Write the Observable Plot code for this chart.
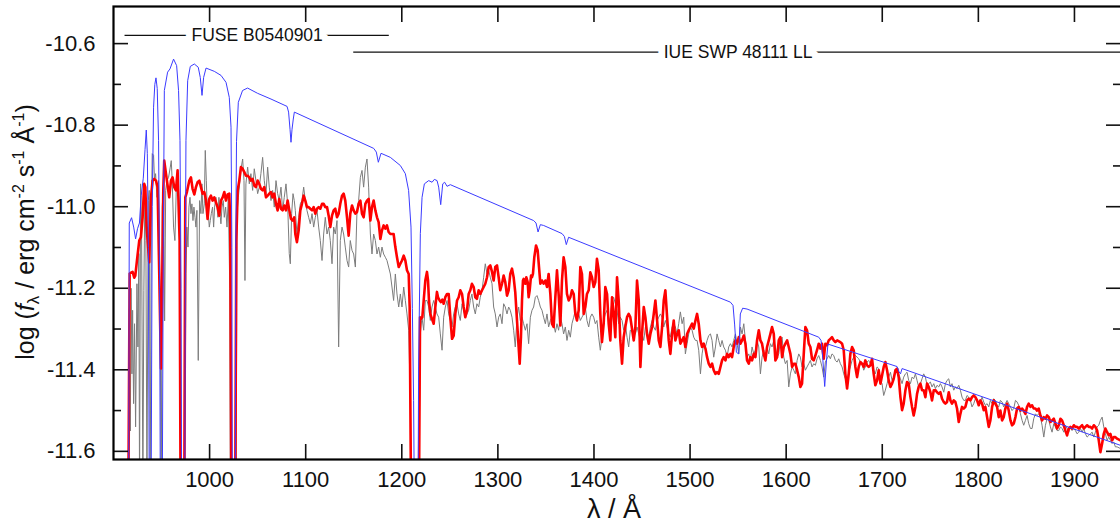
<!DOCTYPE html>
<html><head><meta charset="utf-8">
<script src="https://cdn.jsdelivr.net/npm/d3@7"></script>
<script src="https://cdn.jsdelivr.net/npm/@observablehq/plot@0.6"></script>
<style>body{margin:0;background:#fff;overflow:hidden}</style>
</head><body><div id="chart"></div>
<script>
const xTicks = [1000,1100,1200,1300,1400,1500,1600,1700,1800,1900];
const yMajor = [-10.6,-10.8,-11.0,-11.2,-11.4,-11.6];
const yMinor = [-10.7,-10.9,-11.1,-11.3,-11.5];
const instruments = [
  {name:"FUSE B0540901", from:912, to:1187, level:-10.580},
  {name:"IUE SWP 48111 LL", from:1150, to:1950, level:-10.621}
];

// blue: model spectrum
const modelSpectrum = [[915.8,-11.7],[916.4,-11.04],[918.8,-11.027],[921,-11.05],[923,-11.079],[925,-11.054],[927,-11.04],[928.8,-10.973],[931,-10.93],[932.8,-10.86],[934.1,-10.812],[935.2,-10.87],[936.3,-11.1],[937.2,-11.7],[939.2,-11.7],[940.3,-11.0],[941.7,-10.756],[943,-10.7],[944.2,-10.684],[945.5,-10.71],[946.9,-10.838],[948,-11.2],[948.7,-11.7],[950.8,-11.7],[951.8,-11.1],[952.9,-10.715],[956.3,-10.670],[958.8,-10.662],[962.5,-10.638],[965.7,-10.654],[967.7,-10.715],[969.2,-10.838],[970.3,-11.2],[970.8,-11.7],[974.2,-11.7],[974.8,-11.1],[975.4,-10.838],[977.2,-10.691],[979.9,-10.656],[984.1,-10.650],[988.2,-10.658],[990.3,-10.683],[992.1,-10.727],[993.8,-10.683],[996.3,-10.660],[1004.9,-10.668],[1011.9,-10.678],[1017.1,-10.695],[1020.5,-10.732],[1022.3,-10.805],[1023.2,-11.1],[1023.6,-11.7],[1026.8,-11.7],[1027.2,-11.1],[1028,-10.84],[1029.9,-10.744],[1034.3,-10.715],[1039.5,-10.709],[1050,-10.722],[1063.9,-10.736],[1080.6,-10.754],[1082.2,-10.768],[1083.7,-10.81],[1084.7,-10.842],[1085.8,-10.81],[1087.1,-10.785],[1088.2,-10.768],[1170.8,-10.857],[1173.5,-10.866],[1175.6,-10.891],[1178.4,-10.869],[1188.1,-10.879],[1198.5,-10.899],[1203.7,-10.919],[1207.1,-10.960],[1209.6,-11.050],[1211,-11.25],[1212.3,-11.475],[1213,-11.7],[1217,-11.7],[1217.5,-11.393],[1219.3,-11.066],[1221.1,-10.977],[1223.5,-10.944],[1228,-10.936],[1231.5,-10.940],[1233.9,-10.933],[1236.7,-10.936],[1238.4,-10.952],[1240.5,-10.995],[1242.6,-10.944],[1244.6,-10.940],[1247.1,-10.950],[1250.5,-10.946],[1337.2,-11.034],[1339.7,-11.040],[1341.8,-11.062],[1344.2,-11.044],[1347.6,-11.046],[1366.8,-11.066],[1369.2,-11.073],[1371.2,-11.093],[1373.6,-11.075],[1541.9,-11.234],[1544.7,-11.242],[1546.4,-11.29],[1548.2,-11.357],[1550.6,-11.361],[1552.3,-11.263],[1554.7,-11.249],[1559.3,-11.251],[1633.9,-11.320],[1636.3,-11.328],[1638,-11.369],[1640.1,-11.441],[1642.2,-11.369],[1643.5,-11.337],[1715.4,-11.392],[1717.5,-11.405],[1719,-11.41],[1720.6,-11.397],[1950,-11.587]];

// gray: observed spectrum
const observedSpectrum = [[915.3,-11.7],[916.5,-11.25],[917.5,-11.55],[918.3,-11.2],[919.2,-11.410],[919.9,-11.254],[920.9,-11.483],[921.9,-11.287],[923.0,-11.540],[924.4,-11.189],[925.4,-11.344],[926.4,-11.115],[927.1,-11.7],[928.2,-10.944],[929.2,-11.050],[930.6,-11.7],[931.6,-11.205],[932.7,-10.952],[933.7,-11.083],[934.8,-11.7],[936.2,-10.985],[937.2,-10.960],[938.2,-11.7],[939.3,-11.050],[940.3,-10.870],[941.7,-10.874],[942.7,-10.936],[943.8,-10.919],[945.2,-10.977],[946.9,-10.936],[948.6,-11.287],[949.7,-11.7],[950.7,-11.001],[952.1,-10.944],[953.2,-11.28],[954.3,-10.96],[955.6,-10.936],[957.3,-10.928],[959.1,-10.903],[960.1,-10.887],[961.1,-10.936],[962.5,-11.050],[963.9,-11.083],[965.3,-10.960],[967.0,-10.936],[968.8,-11.001],[970.2,-11.7],[974.0,-11.7],[975.4,-11.164],[976.4,-11.050],[977.5,-11.099],[978.5,-11.001],[979.6,-10.977],[980.6,-11.017],[981.6,-10.993],[982.7,-11.034],[983.7,-11.001],[984.8,-11.026],[985.8,-11.050],[986.8,-11.009],[988.2,-11.377],[989.6,-10.985],[991.0,-11.017],[992.0,-10.944],[993.1,-11.017],[994.5,-10.993],[995.5,-10.862],[996.6,-10.936],[997.6,-11.009],[998.6,-11.017],[999.7,-11.050],[1000.7,-11.034],[1001.8,-11.017],[1003.1,-11.001],[1004.2,-11.050],[1005.2,-11.001],[1006.6,-10.977],[1007.7,-11.001],[1008.7,-11.026],[1009.7,-10.977],[1010.8,-11.017],[1011.8,-11.042],[1012.9,-11.001],[1014.2,-10.985],[1015.3,-11.026],[1016.7,-11.001],[1018.1,-11.050],[1019.5,-10.977],[1021.0,-11.2],[1021.6,-11.7],[1027.6,-11.7],[1028.5,-11.017],[1029.9,-10.977],[1031.6,-10.936],[1033.0,-10.903],[1034.4,-10.883],[1035.8,-10.936],[1036.8,-11.181],[1037.8,-10.944],[1039.6,-10.903],[1041.3,-10.944],[1043.0,-10.919],[1044.8,-10.960],[1046.5,-10.907],[1048.2,-10.936],[1050.0,-10.968],[1051.7,-10.952],[1053.4,-10.919],[1055.2,-10.879],[1056.9,-10.936],[1058.7,-10.968],[1060.4,-10.903],[1062.1,-10.952],[1063.9,-10.985],[1065.6,-10.960],[1067.3,-11.001],[1069.1,-10.936],[1070.8,-10.968],[1072.5,-10.985],[1074.3,-10.952],[1076.0,-11.009],[1077.7,-10.977],[1079.5,-10.944],[1081.2,-10.993],[1082.9,-11.115],[1084.0,-11.140],[1085.4,-11.017],[1086.8,-10.968],[1088.1,-10.985],[1089.2,-11.009],[1090.9,-11.067],[1092.7,-11.026],[1094.4,-10.993],[1096.1,-10.985],[1097.9,-10.952],[1099.6,-10.985],[1101.3,-11.009],[1103.1,-11.026],[1104.8,-11.042],[1106.6,-11.017],[1108.3,-11.050],[1110.0,-11.026],[1111.8,-11.009],[1113.5,-11.050],[1115.2,-11.083],[1117.0,-11.132],[1118.7,-11.067],[1120.4,-11.026],[1122.2,-11.067],[1123.9,-11.050],[1125.6,-11.083],[1127.4,-11.140],[1129.1,-11.050],[1130.8,-11.067],[1132.6,-11.034],[1134.3,-11.344],[1136.0,-11.083],[1137.8,-11.050],[1139.5,-11.067],[1141.2,-11.099],[1143.0,-11.132],[1144.7,-11.148],[1146.4,-11.083],[1148.2,-11.107],[1149.9,-11.116],[1151.7,-11.148],[1153.4,-11.009],[1155.1,-10.985],[1156.9,-10.928],[1158.6,-10.911],[1160.3,-10.952],[1162.1,-10.903],[1163.8,-10.883],[1165.5,-10.952],[1167.3,-11.067],[1169.0,-11.116],[1170.7,-11.067],[1172.5,-11.083],[1174.2,-11.116],[1175.9,-11.099],[1177.7,-11.124],[1179.4,-11.099],[1181.1,-11.116],[1182.9,-11.124],[1184.6,-11.132],[1186.3,-11.148],[1188.1,-11.165],[1189.8,-11.197],[1191.5,-11.230],[1193.3,-11.165],[1195.0,-11.214],[1196.8,-11.246],[1198.5,-11.214],[1200.2,-11.246],[1202.0,-11.197],[1203.7,-11.230],[1205.4,-11.263],[1207.2,-11.303],[1208.9,-11.475],[1209.9,-11.7],[1217.6,-11.7],[1219.3,-11.312],[1221.0,-11.271],[1222.8,-11.303],[1224.5,-11.230],[1226.2,-11.230],[1228.0,-11.246],[1229.7,-11.279],[1231.4,-11.246],[1233.2,-11.230],[1234.9,-11.246],[1236.6,-11.263],[1238.4,-11.271],[1240.1,-11.312],[1241.9,-11.352],[1243.6,-11.271],[1245.3,-11.246],[1247.1,-11.230],[1248.8,-11.263],[1250.5,-11.279],[1252.3,-11.295],[1254.0,-11.263],[1255.7,-11.246],[1257.5,-11.238],[1259.2,-11.263],[1260.9,-11.279],[1262.7,-11.238],[1264.4,-11.254],[1266.1,-11.271],[1267.9,-11.263],[1269.6,-11.254],[1271.3,-11.230],[1273.0,-11.214],[1274.8,-11.246],[1276.5,-11.263],[1278.2,-11.238],[1280.0,-11.246],[1281.7,-11.222],[1283.5,-11.205],[1285.2,-11.173],[1286.9,-11.140],[1288.7,-11.165],[1290.4,-11.156],[1292.1,-11.173],[1293.9,-11.189],[1295.6,-11.246],[1297.3,-11.263],[1299.1,-11.295],[1300.8,-11.271],[1302.5,-11.263],[1304.3,-11.287],[1306.0,-11.238],[1307.7,-11.246],[1309.5,-11.263],[1311.2,-11.246],[1312.9,-11.254],[1314.7,-11.271],[1316.4,-11.303],[1318.1,-11.344],[1319.9,-11.271],[1321.6,-11.246],[1323.3,-11.279],[1325.1,-11.271],[1326.8,-11.287],[1328.6,-11.303],[1330.3,-11.287],[1332.0,-11.336],[1333.8,-11.271],[1335.5,-11.254],[1337.2,-11.246],[1339.0,-11.222],[1340.7,-11.218],[1342.4,-11.230],[1344.2,-11.246],[1345.9,-11.254],[1347.6,-11.271],[1349.4,-11.287],[1351.1,-11.263],[1352.8,-11.295],[1354.6,-11.279],[1356.3,-11.271],[1358.0,-11.287],[1359.8,-11.308],[1361.5,-11.287],[1363.2,-11.303],[1365.0,-11.271],[1366.7,-11.287],[1368.4,-11.312],[1370.2,-11.295],[1371.9,-11.328],[1373.7,-11.303],[1375.4,-11.320],[1377.1,-11.287],[1378.9,-11.271],[1380.6,-11.254],[1382.3,-11.271],[1384.1,-11.263],[1385.8,-11.279],[1387.5,-11.271],[1389.3,-11.263],[1391.0,-11.246],[1392.7,-11.279],[1394.5,-11.295],[1396.2,-11.271],[1397.9,-11.263],[1399.7,-11.271],[1401.4,-11.287],[1403.1,-11.279],[1404.9,-11.320],[1406.6,-11.352],[1408.3,-11.320],[1410.1,-11.279],[1411.8,-11.263],[1413.6,-11.254],[1415.3,-11.287],[1417.0,-11.271],[1418.8,-11.230],[1420.5,-11.222],[1422.2,-11.238],[1424.0,-11.254],[1425.7,-11.287],[1427.4,-11.271],[1429.2,-11.279],[1430.9,-11.303],[1432.6,-11.287],[1434.4,-11.320],[1436.1,-11.344],[1437.8,-11.303],[1443.1,-11.312],[1444.8,-11.295],[1446.6,-11.312],[1448.3,-11.328],[1450.0,-11.312],[1451.8,-11.328],[1453.5,-11.295],[1455.2,-11.303],[1457.0,-11.320],[1458.7,-11.295],[1460.5,-11.279],[1462.2,-11.295],[1463.9,-11.303],[1465.7,-11.279],[1467.4,-11.271],[1469.1,-11.263],[1470.9,-11.271],[1472.6,-11.295],[1474.3,-11.279],[1476.1,-11.295],[1477.8,-11.312],[1479.5,-11.320],[1481.3,-11.295],[1483.0,-11.287],[1484.7,-11.295],[1486.5,-11.312],[1488.2,-11.287],[1489.9,-11.258],[1491.7,-11.287],[1493.4,-11.271],[1495.1,-11.361],[1496.9,-11.336],[1498.6,-11.312],[1500.3,-11.295],[1502.1,-11.303],[1503.8,-11.320],[1505.6,-11.328],[1507.3,-11.328],[1509.0,-11.352],[1510.8,-11.410],[1512.5,-11.361],[1514.2,-11.336],[1516.0,-11.344],[1517.7,-11.328],[1519.4,-11.316],[1521.2,-11.312],[1522.9,-11.328],[1524.6,-11.369],[1526.4,-11.344],[1528.1,-11.312],[1529.8,-11.328],[1531.6,-11.344],[1533.3,-11.328],[1535.0,-11.344],[1536.8,-11.352],[1538.5,-11.369],[1540.2,-11.344],[1542.0,-11.336],[1543.7,-11.344],[1545.4,-11.328],[1547.2,-11.312],[1548.9,-11.336],[1550.7,-11.361],[1552.4,-11.295],[1554.1,-11.312],[1555.9,-11.287],[1557.6,-11.328],[1559.3,-11.369],[1561.1,-11.361],[1562.8,-11.377],[1564.5,-11.344],[1566.3,-11.361],[1568.0,-11.352],[1569.7,-11.328],[1571.5,-11.344],[1573.2,-11.410],[1574.9,-11.369],[1576.7,-11.352],[1578.4,-11.377],[1580.1,-11.344],[1581.9,-11.361],[1583.6,-11.336],[1585.3,-11.344],[1587.1,-11.328],[1588.8,-11.344],[1590.6,-11.369],[1592.3,-11.361],[1594.0,-11.328],[1595.8,-11.320],[1597.5,-11.369],[1599.2,-11.385],[1601.0,-11.377],[1602.7,-11.442],[1604.4,-11.410],[1606.2,-11.393],[1607.9,-11.401],[1609.6,-11.410],[1611.4,-11.377],[1613.1,-11.361],[1614.8,-11.369],[1616.5,-11.393],[1618.3,-11.385],[1620.0,-11.401],[1621.7,-11.393],[1623.5,-11.385],[1625.2,-11.377],[1626.9,-11.393],[1628.7,-11.385],[1630.4,-11.389],[1632.1,-11.373],[1633.9,-11.365],[1635.6,-11.377],[1637.3,-11.393],[1639.1,-11.418],[1640.8,-11.381],[1642.5,-11.373],[1644.3,-11.365],[1646.0,-11.373],[1647.7,-11.361],[1649.5,-11.365],[1651.2,-11.377],[1653.0,-11.381],[1654.7,-11.373],[1656.4,-11.385],[1658.2,-11.393],[1659.9,-11.410],[1661.6,-11.422],[1663.4,-11.426],[1665.1,-11.406],[1666.8,-11.393],[1668.6,-11.377],[1670.3,-11.369],[1672.0,-11.365],[1673.8,-11.369],[1675.5,-11.373],[1677.2,-11.381],[1679.0,-11.385],[1680.7,-11.401],[1682.4,-11.393],[1684.2,-11.381],[1685.9,-11.377],[1687.6,-11.385],[1689.4,-11.377],[1691.1,-11.401],[1692.8,-11.410],[1694.6,-11.393],[1696.3,-11.397],[1698.1,-11.426],[1699.8,-11.434],[1701.5,-11.463],[1703.2,-11.450],[1705.0,-11.434],[1706.7,-11.418],[1708.5,-11.406],[1710.2,-11.426],[1711.9,-11.418],[1713.7,-11.401],[1715.4,-11.397],[1717.1,-11.410],[1718.9,-11.422],[1720.6,-11.434],[1722.3,-11.418],[1724.1,-11.410],[1725.8,-11.406],[1727.5,-11.426],[1729.3,-11.434],[1731.0,-11.418],[1732.7,-11.422],[1734.5,-11.410],[1736.2,-11.426],[1737.9,-11.442],[1739.7,-11.434],[1741.4,-11.422],[1743.1,-11.410],[1744.9,-11.418],[1746.6,-11.438],[1748.3,-11.434],[1750.1,-11.430],[1751.8,-11.442],[1753.6,-11.434],[1755.3,-11.446],[1757.0,-11.438],[1758.8,-11.442],[1760.5,-11.434],[1762.2,-11.442],[1764.0,-11.455],[1765.7,-11.434],[1767.4,-11.426],[1769.2,-11.422],[1770.9,-11.442],[1772.6,-11.434],[1774.4,-11.450],[1776.1,-11.442],[1777.8,-11.446],[1779.6,-11.438],[1781.3,-11.450],[1783.0,-11.467],[1784.8,-11.475],[1786.5,-11.475],[1788.2,-11.463],[1790.0,-11.467],[1791.7,-11.475],[1793.4,-11.491],[1795.2,-11.483],[1796.9,-11.471],[1798.7,-11.475],[1800.4,-11.483],[1802.1,-11.479],[1803.9,-11.467],[1805.6,-11.479],[1807.3,-11.487],[1809.1,-11.483],[1810.8,-11.491],[1812.5,-11.475],[1814.3,-11.483],[1816.0,-11.471],[1817.7,-11.475],[1819.5,-11.487],[1821.2,-11.491],[1822.9,-11.475],[1824.7,-11.479],[1826.4,-11.491],[1828.1,-11.483],[1829.9,-11.475],[1831.6,-11.483],[1833.4,-11.491],[1835.1,-11.500],[1836.8,-11.495],[1838.6,-11.475],[1840.3,-11.479],[1842.0,-11.487],[1843.8,-11.508],[1845.5,-11.524],[1847.2,-11.536],[1849.0,-11.524],[1850.7,-11.512],[1852.4,-11.532],[1854.2,-11.544],[1855.9,-11.544],[1857.6,-11.520],[1859.4,-11.508],[1861.1,-11.512],[1862.8,-11.508],[1864.6,-11.516],[1866.3,-11.536],[1868.1,-11.565],[1869.8,-11.536],[1871.5,-11.520],[1873.3,-11.524],[1875.0,-11.540],[1876.7,-11.553],[1878.5,-11.532],[1880.2,-11.540],[1881.9,-11.549],[1883.7,-11.549],[1885.4,-11.540],[1887.1,-11.544],[1888.9,-11.553],[1890.6,-11.536],[1892.3,-11.544],[1894.1,-11.553],[1895.8,-11.540],[1897.5,-11.549],[1899.3,-11.544],[1901.0,-11.549],[1902.7,-11.557],[1904.5,-11.553],[1906.2,-11.544],[1908.0,-11.553],[1909.7,-11.544],[1911.4,-11.557],[1913.2,-11.565],[1914.9,-11.561],[1916.6,-11.557],[1918.4,-11.553],[1920.1,-11.565],[1921.8,-11.553],[1923.6,-11.540],[1925.3,-11.536],[1927.0,-11.524],[1928.8,-11.516],[1930.5,-11.540],[1932.2,-11.557],[1934.0,-11.573],[1935.7,-11.565],[1937.4,-11.573],[1939.2,-11.581],[1940.9,-11.577],[1942.6,-11.589],[1944.4,-11.589],[1947.8,-11.593],[1950,-11.595]];

// red: thick spectrum
const redSpectrum = [[915.5,-11.7],[916.8,-11.164],[918.1,-11.162],[919.9,-11.160],[921.6,-11.174],[922.7,-11.169],[924.4,-11.132],[926.8,-11.083],[928.5,-11.075],[930.3,-11.026],[932.0,-10.944],[933.1,-10.952],[934.5,-11.050],[935.5,-11.083],[937.2,-11.136],[939.0,-10.977],[940.7,-10.936],[942.4,-10.932],[944.2,-10.936],[945.9,-10.952],[947.6,-11.164],[949.4,-11.397],[950.4,-11.246],[951.8,-10.960],[952.8,-10.887],[954.6,-10.919],[956.3,-10.948],[958.0,-10.977],[959.8,-10.936],[961.5,-10.928],[963.2,-10.952],[965.0,-10.960],[966.7,-10.911],[968.8,-11.083],[969.8,-11.7],[973.7,-11.7],[974.7,-10.977],[976.4,-10.964],[978.9,-10.936],[980.6,-10.928],[982.3,-10.956],[984.1,-10.970],[985.8,-10.952],[987.5,-10.940],[989.3,-10.936],[991.0,-10.952],[992.7,-10.968],[994.5,-10.964],[996.2,-10.983],[997.9,-11.030],[999.7,-10.981],[1001.4,-10.973],[1003.1,-10.985],[1004.9,-10.977],[1006.6,-10.989],[1008.3,-11.001],[1010.1,-11.022],[1011.8,-10.985],[1013.6,-10.977],[1015.3,-10.964],[1017.0,-10.985],[1018.8,-10.970],[1020.5,-10.968],[1021.5,-11.042],[1022.6,-11.7],[1026.7,-11.7],[1027.8,-11.083],[1029.2,-10.960],[1030.9,-10.936],[1032.6,-10.903],[1034.4,-10.907],[1036.1,-10.915],[1037.8,-10.924],[1039.6,-10.924],[1041.3,-10.928],[1043.0,-10.936],[1044.8,-10.932],[1046.5,-10.948],[1048.2,-10.952],[1050.0,-10.936],[1051.7,-10.944],[1053.4,-10.956],[1055.2,-10.960],[1056.9,-10.952],[1058.7,-10.977],[1060.4,-10.973],[1062.1,-10.968],[1063.9,-10.964],[1065.6,-10.977],[1067.3,-10.968],[1069.1,-10.993],[1070.8,-11.009],[1072.5,-10.981],[1074.3,-11.005],[1076.0,-11.009],[1077.7,-10.997],[1079.5,-11.009],[1081.2,-10.985],[1083.0,-11.009],[1084.7,-11.030],[1086.4,-11.034],[1088.1,-11.026],[1089.2,-11.067],[1090.9,-11.087],[1092.7,-11.058],[1094.4,-11.009],[1096.1,-10.993],[1097.9,-10.973],[1099.6,-10.985],[1101.3,-11.001],[1103.1,-11.001],[1104.8,-11.005],[1106.6,-11.009],[1108.3,-11.001],[1110.0,-11.017],[1111.8,-11.005],[1113.5,-11.001],[1115.2,-11.005],[1117.0,-10.993],[1118.7,-10.993],[1120.4,-11.001],[1122.2,-11.001],[1123.9,-11.022],[1125.6,-11.050],[1127.4,-11.022],[1129.1,-11.009],[1130.8,-11.005],[1132.6,-11.026],[1134.3,-11.017],[1136.0,-10.993],[1137.8,-10.973],[1139.5,-10.968],[1141.2,-10.985],[1143.0,-11.026],[1144.7,-11.071],[1146.4,-11.017],[1148.2,-10.997],[1149.9,-11.009],[1151.7,-11.017],[1153.4,-11.013],[1155.1,-10.993],[1156.9,-10.985],[1158.6,-11.017],[1160.3,-11.026],[1162.1,-10.993],[1163.8,-10.985],[1165.5,-10.981],[1167.3,-11.034],[1169.0,-11.001],[1170.7,-10.985],[1172.5,-11.009],[1174.2,-11.026],[1175.9,-11.038],[1177.7,-11.079],[1179.4,-11.058],[1181.1,-11.046],[1182.9,-11.054],[1184.6,-11.046],[1186.3,-11.062],[1188.1,-11.067],[1189.8,-11.067],[1191.5,-11.067],[1193.3,-11.099],[1195.0,-11.124],[1196.8,-11.148],[1198.5,-11.140],[1200.2,-11.132],[1202.0,-11.120],[1203.7,-11.132],[1205.4,-11.156],[1207.2,-11.165],[1208.2,-11.246],[1209.6,-11.7],[1217.9,-11.7],[1219.0,-11.271],[1220.0,-11.275],[1221.4,-11.271],[1222.8,-11.230],[1224.5,-11.181],[1226.2,-11.160],[1227.3,-11.181],[1228.3,-11.230],[1229.7,-11.263],[1231.4,-11.275],[1233.2,-11.287],[1234.9,-11.246],[1236.6,-11.209],[1237.7,-11.222],[1239.4,-11.230],[1240.8,-11.234],[1242.2,-11.228],[1243.6,-11.238],[1245.3,-11.222],[1247.1,-11.214],[1248.8,-11.214],[1250.5,-11.271],[1252.3,-11.324],[1254.0,-11.316],[1255.7,-11.263],[1257.5,-11.230],[1259.2,-11.222],[1260.9,-11.205],[1262.7,-11.214],[1264.4,-11.246],[1266.1,-11.271],[1267.9,-11.254],[1269.6,-11.214],[1271.3,-11.205],[1273.0,-11.189],[1274.8,-11.197],[1276.5,-11.222],[1278.2,-11.226],[1280.0,-11.205],[1281.7,-11.214],[1283.5,-11.205],[1285.2,-11.197],[1286.9,-11.189],[1288.7,-11.173],[1290.4,-11.148],[1292.1,-11.144],[1293.9,-11.160],[1295.6,-11.181],[1297.3,-11.148],[1299.1,-11.144],[1300.8,-11.173],[1302.5,-11.205],[1304.3,-11.189],[1306.0,-11.169],[1307.7,-11.185],[1309.5,-11.218],[1311.2,-11.205],[1312.9,-11.165],[1314.7,-11.152],[1316.4,-11.173],[1318.1,-11.210],[1319.9,-11.279],[1321.6,-11.344],[1322.7,-11.385],[1324.0,-11.320],[1325.1,-11.230],[1326.1,-11.181],[1326.8,-11.177],[1328.6,-11.189],[1329.6,-11.173],[1331.0,-11.185],[1332.0,-11.222],[1333.1,-11.205],[1334.5,-11.169],[1335.5,-11.173],[1336.5,-11.165],[1337.9,-11.124],[1339.7,-11.095],[1341.4,-11.107],[1342.8,-11.148],[1344.2,-11.189],[1345.9,-11.181],[1347.6,-11.189],[1349.4,-11.181],[1351.1,-11.197],[1352.8,-11.165],[1354.6,-11.214],[1356.3,-11.287],[1358.0,-11.295],[1359.8,-11.222],[1361.5,-11.156],[1363.2,-11.214],[1365.0,-11.291],[1366.7,-11.181],[1368.4,-11.124],[1370.2,-11.148],[1371.9,-11.214],[1373.7,-11.230],[1375.4,-11.222],[1377.1,-11.205],[1378.9,-11.214],[1380.6,-11.263],[1382.3,-11.279],[1384.1,-11.254],[1385.8,-11.148],[1387.5,-11.165],[1389.3,-11.263],[1391.0,-11.246],[1392.7,-11.214],[1394.5,-11.205],[1396.2,-11.161],[1397.9,-11.173],[1399.7,-11.197],[1401.4,-11.185],[1403.1,-11.128],[1404.9,-11.156],[1406.6,-11.263],[1408.3,-11.332],[1410.1,-11.287],[1411.8,-11.197],[1413.6,-11.214],[1415.3,-11.287],[1417.0,-11.328],[1418.8,-11.222],[1420.5,-11.263],[1422.2,-11.320],[1424.0,-11.173],[1425.7,-11.230],[1427.4,-11.328],[1429.2,-11.385],[1430.9,-11.320],[1432.6,-11.295],[1434.4,-11.271],[1436.1,-11.263],[1437.8,-11.271],[1441.4,-11.328],[1443.1,-11.295],[1444.8,-11.181],[1446.6,-11.230],[1448.3,-11.393],[1450.0,-11.312],[1451.8,-11.246],[1453.5,-11.271],[1455.2,-11.312],[1457.0,-11.336],[1458.7,-11.312],[1460.5,-11.295],[1462.2,-11.263],[1463.9,-11.230],[1465.7,-11.279],[1467.4,-11.328],[1469.1,-11.344],[1470.9,-11.295],[1472.6,-11.230],[1474.3,-11.205],[1476.1,-11.271],[1477.8,-11.328],[1479.5,-11.361],[1481.3,-11.312],[1483.0,-11.279],[1484.7,-11.328],[1486.5,-11.312],[1488.2,-11.303],[1489.9,-11.336],[1491.7,-11.328],[1493.4,-11.320],[1495.1,-11.344],[1496.9,-11.312],[1498.6,-11.303],[1500.3,-11.295],[1502.1,-11.287],[1503.8,-11.299],[1505.6,-11.279],[1507.3,-11.263],[1509.0,-11.287],[1510.8,-11.328],[1512.5,-11.344],[1514.2,-11.336],[1516.0,-11.348],[1517.7,-11.369],[1519.4,-11.385],[1521.2,-11.393],[1522.9,-11.385],[1524.6,-11.401],[1526.4,-11.410],[1528.1,-11.406],[1529.8,-11.410],[1531.6,-11.393],[1533.3,-11.377],[1535.0,-11.369],[1536.8,-11.377],[1538.5,-11.361],[1540.2,-11.369],[1542.0,-11.361],[1543.7,-11.369],[1545.4,-11.344],[1547.2,-11.328],[1548.9,-11.336],[1550.7,-11.320],[1552.4,-11.336],[1554.1,-11.328],[1555.9,-11.316],[1557.6,-11.336],[1559.3,-11.377],[1561.1,-11.385],[1562.8,-11.369],[1564.5,-11.377],[1566.3,-11.361],[1568.0,-11.369],[1569.7,-11.328],[1571.5,-11.303],[1573.2,-11.328],[1574.9,-11.336],[1576.7,-11.361],[1578.4,-11.377],[1580.1,-11.344],[1581.9,-11.328],[1583.6,-11.312],[1585.3,-11.295],[1587.1,-11.312],[1588.8,-11.377],[1590.6,-11.369],[1592.3,-11.328],[1594.0,-11.320],[1595.8,-11.369],[1597.5,-11.344],[1599.2,-11.336],[1601.0,-11.328],[1602.7,-11.344],[1604.4,-11.361],[1606.2,-11.393],[1607.9,-11.385],[1609.6,-11.385],[1611.4,-11.401],[1613.1,-11.418],[1614.8,-11.442],[1616.5,-11.434],[1618.3,-11.361],[1620.0,-11.295],[1621.7,-11.303],[1623.5,-11.336],[1625.2,-11.344],[1626.9,-11.373],[1628.7,-11.377],[1630.4,-11.365],[1632.1,-11.352],[1633.9,-11.336],[1635.6,-11.348],[1637.3,-11.336],[1639.1,-11.373],[1640.8,-11.336],[1642.5,-11.340],[1644.3,-11.328],[1646.0,-11.324],[1647.7,-11.320],[1649.5,-11.328],[1651.2,-11.332],[1653.1,-11.328],[1656.4,-11.332],[1658.2,-11.336],[1659.9,-11.352],[1661.6,-11.410],[1663.4,-11.446],[1665.1,-11.410],[1666.8,-11.361],[1668.6,-11.344],[1670.3,-11.352],[1672.0,-11.393],[1673.8,-11.418],[1675.5,-11.393],[1677.2,-11.381],[1679.0,-11.385],[1680.7,-11.393],[1682.4,-11.377],[1684.2,-11.389],[1685.9,-11.393],[1687.6,-11.389],[1689.4,-11.373],[1691.1,-11.410],[1692.8,-11.438],[1694.6,-11.426],[1696.3,-11.401],[1698.1,-11.434],[1699.8,-11.414],[1701.5,-11.393],[1703.2,-11.381],[1705.0,-11.401],[1706.7,-11.426],[1708.5,-11.442],[1710.2,-11.434],[1711.9,-11.422],[1713.7,-11.401],[1715.4,-11.397],[1717.1,-11.418],[1718.9,-11.467],[1720.6,-11.499],[1722.3,-11.483],[1724.1,-11.450],[1725.8,-11.430],[1727.5,-11.434],[1729.3,-11.467],[1731.0,-11.491],[1732.7,-11.512],[1734.5,-11.491],[1736.2,-11.459],[1737.9,-11.442],[1739.7,-11.434],[1741.4,-11.450],[1743.1,-11.450],[1744.9,-11.467],[1746.6,-11.434],[1748.3,-11.442],[1750.1,-11.455],[1751.8,-11.475],[1753.6,-11.450],[1755.3,-11.450],[1757.0,-11.455],[1758.8,-11.459],[1760.5,-11.455],[1762.2,-11.471],[1764.0,-11.479],[1765.7,-11.483],[1767.4,-11.479],[1769.2,-11.455],[1770.9,-11.475],[1772.6,-11.483],[1774.4,-11.475],[1776.1,-11.479],[1777.8,-11.495],[1779.6,-11.528],[1781.3,-11.508],[1783.0,-11.491],[1784.8,-11.495],[1786.5,-11.491],[1788.2,-11.475],[1790.0,-11.471],[1791.7,-11.475],[1793.4,-11.467],[1795.2,-11.463],[1796.9,-11.467],[1798.7,-11.475],[1800.4,-11.487],[1802.1,-11.475],[1803.9,-11.483],[1805.6,-11.499],[1807.3,-11.491],[1809.1,-11.516],[1810.8,-11.540],[1812.5,-11.524],[1814.3,-11.491],[1816.0,-11.475],[1817.7,-11.483],[1819.5,-11.491],[1821.2,-11.516],[1822.9,-11.500],[1824.7,-11.524],[1826.4,-11.516],[1828.1,-11.495],[1829.9,-11.483],[1831.6,-11.500],[1833.4,-11.524],[1835.1,-11.536],[1836.8,-11.532],[1838.6,-11.516],[1840.3,-11.495],[1842.0,-11.491],[1843.8,-11.500],[1845.5,-11.495],[1847.2,-11.500],[1849.0,-11.508],[1850.7,-11.491],[1852.4,-11.483],[1854.2,-11.491],[1855.9,-11.487],[1857.6,-11.495],[1859.4,-11.495],[1861.1,-11.500],[1862.8,-11.495],[1864.6,-11.512],[1866.3,-11.524],[1868.1,-11.516],[1869.8,-11.520],[1871.5,-11.512],[1873.3,-11.516],[1875.0,-11.528],[1876.7,-11.524],[1878.5,-11.520],[1880.2,-11.532],[1881.9,-11.544],[1883.7,-11.536],[1885.4,-11.520],[1887.1,-11.524],[1888.9,-11.536],[1890.6,-11.549],[1892.3,-11.561],[1894.1,-11.544],[1895.8,-11.540],[1897.5,-11.544],[1899.3,-11.536],[1901.0,-11.540],[1902.7,-11.540],[1904.5,-11.544],[1906.2,-11.540],[1908.0,-11.536],[1909.7,-11.544],[1911.4,-11.540],[1913.2,-11.536],[1914.9,-11.540],[1916.6,-11.540],[1918.4,-11.544],[1920.1,-11.536],[1921.8,-11.540],[1923.6,-11.549],[1925.3,-11.573],[1927.0,-11.602],[1928.8,-11.581],[1930.5,-11.557],[1932.2,-11.544],[1934.0,-11.553],[1935.7,-11.561],[1937.4,-11.557],[1939.2,-11.573],[1940.9,-11.565],[1942.6,-11.565],[1944.4,-11.569],[1947.8,-11.573],[1950,-11.575]];

const W = 1120, H = 525, mL = 113, mR = -2, mT = 6, mB = 66;
const xDom = [900, 1950], yDom = [-11.62, -10.509];
const pxX = (xDom[1] - xDom[0]) / (W - mL - mR);
const pxY = (yDom[1] - yDom[0]) / (H - mT - mB);
const font = "'Liberation Sans', Arial, Helvetica, sans-serif";

const plot = Plot.plot({
  width: W, height: H,
  marginLeft: mL, marginRight: mR, marginTop: mT, marginBottom: mB,
  style: {fontFamily: font, background: "#fff", overflow: "visible"},
  x: {type: "linear", domain: xDom},
  y: {type: "linear", domain: yDom},
  marks: [
    Plot.line(observedSpectrum, {stroke: "#7c7c7c", strokeWidth: 1, clip: true}),
    Plot.line(redSpectrum, {stroke: "#ff0000", strokeWidth: 2.6, clip: true, strokeLinejoin: "round"}),
    Plot.line(modelSpectrum, {stroke: "#3b3bff", strokeWidth: 1, clip: true}),
    Plot.ruleY(instruments, {y: "level", x1: "from", x2: "to", stroke: "#111", strokeWidth: 1.2, clip: true}),
    Plot.text(instruments, {x: d => (d.from + d.to) / 2, y: "level", text: "name", fontSize: 17.5, fill: "#111", stroke: "white", strokeWidth: 14}),
    Plot.ruleX(xTicks, {x: d => d, y1: yDom[0], y2: yDom[0] + 15 * pxY, stroke: "#111", strokeWidth: 1.6}),
    Plot.ruleX(xTicks, {x: d => d, y1: yDom[1], y2: yDom[1] - 16 * pxY, stroke: "#111", strokeWidth: 1.6}),
    Plot.ruleY(yMajor, {y: d => d, x1: xDom[0], x2: xDom[0] + 15 * pxX, stroke: "#111", strokeWidth: 1.6}),
    Plot.ruleY(yMajor, {y: d => d, x1: xDom[1], x2: xDom[1] - 16 * pxX, stroke: "#111", strokeWidth: 1.6}),
    Plot.ruleY(yMinor, {y: d => d, x1: xDom[0], x2: xDom[0] + 8 * pxX, stroke: "#111", strokeWidth: 1.6}),
    Plot.ruleY(yMinor, {y: d => d, x1: xDom[1], x2: xDom[1] - 9 * pxX, stroke: "#111", strokeWidth: 1.6}),
    Plot.frame({stroke: "#000", strokeWidth: 2.2}),
    Plot.axisX(xTicks, {tickSize: 0, tickPadding: 12, fontSize: 22, fill: "#111", tickFormat: d => String(d), label: null}),
    Plot.axisY(yMajor, {tickSize: 0, tickPadding: 18, fontSize: 22, fill: "#111", tickFormat: d => d.toFixed(1), label: null})
  ]
});
document.getElementById("chart").appendChild(plot);

const svg = d3.select(plot);
const yt = svg.append("text")
  .attr("transform", "translate(34,232) rotate(-90)")
  .attr("text-anchor", "middle")
  .attr("font-family", font).attr("font-size", 25).attr("fill", "#111");
yt.append("tspan").text("log (");
yt.append("tspan").attr("font-style", "italic").text("f");
yt.append("tspan").attr("font-size", 17).attr("dy", 5).text("λ");
yt.append("tspan").attr("dy", -5).text(" / erg cm");
yt.append("tspan").attr("font-size", 16).attr("dy", -10).text("-2");
yt.append("tspan").attr("dy", 10).text(" s");
yt.append("tspan").attr("font-size", 16).attr("dy", -10).text("-1");
yt.append("tspan").attr("dy", 10).text(" Å");
yt.append("tspan").attr("font-size", 16).attr("dy", -10).text("-1");
yt.append("tspan").attr("dy", 10).text(")");

svg.append("text")
  .attr("x", 614).attr("y", 518)
  .attr("text-anchor", "middle")
  .attr("font-family", font).attr("font-size", 27).attr("fill", "#111")
  .text("λ / Å");
</script>
</body></html>
